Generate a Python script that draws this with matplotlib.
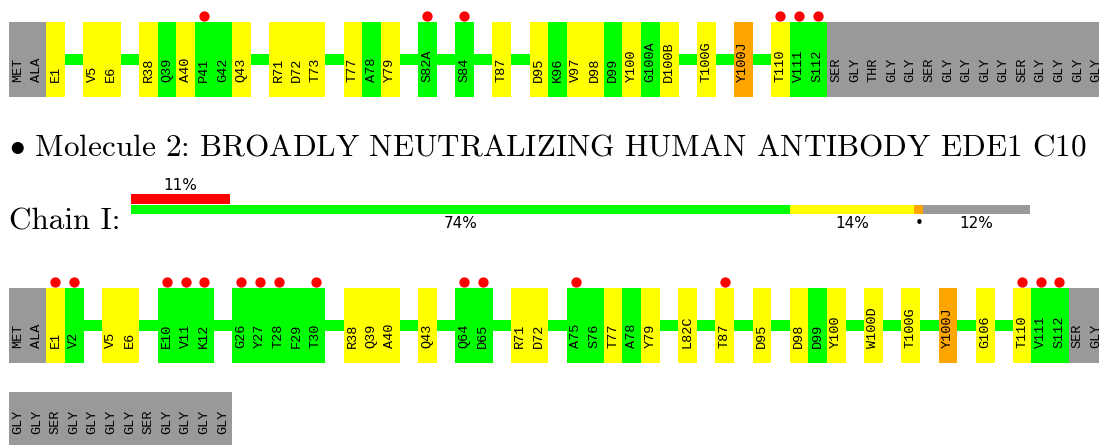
import matplotlib
matplotlib.use("Agg")
import matplotlib.pyplot as plt

plt.rcParams['mathtext.fontset'] = 'cm'

# ---------------- data ----------------
# quality codes: g = not modelled (grey), y = yellow, G = green, o = orange, '' = gap/connector
row1_names = ["MET", "ALA", "E1", "", "V5", "E6", "", "R38", "Q39", "A40", "P41", "G42", "Q43", "",
              "R71", "D72", "T73", "", "T77", "A78", "Y79", "", "S82A", "", "S84", "", "T87", "",
              "D95", "K96", "V97", "D98", "D99", "Y100", "G100A", "D100B", "", "T100G", "", "Y100J", "",
              "T110", "V111", "S112", "SER", "GLY", "THR", "GLY", "GLY", "SER", "GLY", "GLY", "GLY",
              "GLY", "SER", "GLY", "GLY", "GLY", "GLY"]
row1_codes = ["g", "g", "y", "", "y", "y", "", "y", "G", "y", "G", "G", "y", "",
              "y", "y", "y", "", "y", "G", "y", "", "G", "", "G", "", "y", "",
              "y", "G", "y", "y", "G", "y", "G", "y", "", "y", "", "o", "",
              "y", "G", "G", "g", "g", "g", "g", "g", "g", "g", "g", "g",
              "g", "g", "g", "g", "g", "g"]
row1_outliers = ["P41", "S82A", "S84", "T110", "V111", "S112"]

row2_names = ["MET", "ALA", "E1", "V2", "", "V5", "E6", "", "E10", "V11", "K12", "",
              "G26", "Y27", "T28", "F29", "T30", "", "R38", "Q39", "A40", "", "Q43", "",
              "Q64", "D65", "", "R71", "D72", "", "A75", "S76", "T77", "A78", "Y79", "",
              "L82C", "", "T87", "", "D95", "", "D98", "D99", "Y100", "", "W100D", "",
              "T100G", "", "Y100J", "", "G106", "", "T110", "V111", "S112", "SER", "GLY"]
row2_codes = ["g", "g", "y", "G", "", "y", "y", "", "G", "G", "G", "",
              "G", "G", "G", "G", "G", "", "y", "y", "y", "", "y", "",
              "G", "G", "", "y", "y", "", "G", "G", "y", "G", "y", "",
              "y", "", "y", "", "y", "", "y", "G", "y", "", "y", "",
              "y", "", "o", "", "y", "", "y", "G", "G", "g", "g"]
row2_outliers = ["E1", "V2", "E10", "V11", "K12", "G26", "Y27", "T28", "T30",
                 "Q64", "D65", "A75", "T87", "T110", "V111", "S112"]

row3_names = ["GLY", "GLY", "SER", "GLY", "GLY", "GLY", "GLY", "SER", "GLY", "GLY", "GLY", "GLY"]
row3_codes = ["g"] * 12
row3_outliers = []

title = "Molecule 2: BROADLY NEUTRALIZING HUMAN ANTIBODY EDE1 C10"
chain_label = "Chain I:"
red_pct = 11
qual_pct = [74, 14, 1, 12]
qual_labels = ["74%", "14%", "\u2022", "12%"]

# ---------------- style ----------------
COLORS = {"g": "#999999", "y": "#ffff00", "G": "#00ff00", "o": "#ffa500"}
W, H = 1099, 445
CELL = 18.59
X0 = 9
CELL_H = 75

fig = plt.figure(figsize=(W / 100, H / 100), dpi=100)
ax = fig.add_axes([0, 0, 1, 1])
ax.set_xlim(0, W)
ax.set_ylim(H, 0)
ax.axis("off")


def draw_row(names, codes, outliers, top, label_off=60):
    n = len(names)
    xs = [X0 + i * CELL for i in range(n)]
    # connector line between first and last modelled residue
    modelled = [i for i, c in enumerate(codes) if c in ("y", "G", "o")]
    if modelled:
        a, b = modelled[0], modelled[-1]
        ax.bar(xs[a], 11, width=(b - a + 1) * CELL, bottom=top + 32, align="edge",
               color="#00ff00", linewidth=0, zorder=1)
    for i, (nm, c) in enumerate(zip(names, codes)):
        if c == "":
            continue
        ax.bar(xs[i], CELL_H, width=CELL + 0.3, bottom=top, align="edge",
               color=COLORS[c], linewidth=0, zorder=2)
        ax.text(xs[i] + CELL / 2, top + label_off, nm, rotation=90, ha="center", va="bottom",
                family="Liberation Mono", fontsize=9.7, color="black", zorder=3)
    ox = [xs[names.index(o)] + CELL / 2 for o in outliers]
    ax.scatter(ox, [top - 6] * len(ox), s=55, color="#ff0000", linewidths=0, zorder=3)


draw_row(row1_names, row1_codes, row1_outliers, 22)
draw_row(row2_names, row2_codes, row2_outliers, 288)
draw_row(row3_names, row3_codes, row3_outliers, 392, label_off=42)

# title & chain label
ax.text(9, 155, r"$\bullet$ " + title, family="cmr10", fontsize=22.4, va="baseline", ha="left")
ax.text(9, 229, chain_label, family="cmr10", fontsize=22.4, va="baseline", ha="left")

# ---------------- quality bar ----------------
bx0, bx1 = 131, 1030
bax = fig.add_axes([bx0 / W, 1 - 214 / H, (bx1 - bx0) / W, 20 / H])
bax.set_xlim(0, 100)
bax.set_ylim(0, 2)
bax.axis("off")
bax.barh(1.5, red_pct, height=0.95, left=0, align="center", color="#ff0000", linewidth=0)
bax.text(red_pct / 2, 2.15, f"{red_pct}%", ha="center", va="bottom", fontsize=11,
         family="DejaVu Sans")
tot = sum(qual_pct)
left = 0
qcols = ["#00ff00", "#ffff00", "#ffa500", "#999999"]
for p, lab, col in zip(qual_pct, qual_labels, qcols):
    w = p / tot * 100
    bax.barh(0.5, w, height=0.9, left=left, align="center", color=col, linewidth=0)
    bax.text(left + w / 2, -0.2, lab, ha="center", va="top", fontsize=11, family="DejaVu Sans")
    left += w

fig.savefig("out.png", dpi=100)
